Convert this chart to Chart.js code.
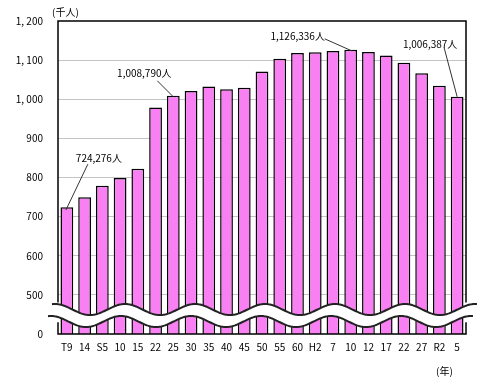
<!DOCTYPE html>
<html>
<head>
<meta charset="utf-8">
<script src="https://cdn.jsdelivr.net/npm/chart.js@4.4.0/dist/chart.umd.min.js"></script>
<style>
  html, body { margin: 0; padding: 0; background: #fff; }
  #wrap { position: relative; width: 486px; height: 387px; }
  canvas { display: block; }
</style>
</head>
<body>
<div id="wrap"><canvas id="myChart" width="486" height="387"></canvas></div>
<script>
const years = ["T9", "14", "S5", "10", "15", "22", "25", "30", "35", "40", "45", "50",
  "55", "60", "H2", "7", "10", "12", "17", "22", "27", "R2", "5"];

// 千人
const population = [724.276, 749.243, 778.953, 798.890, 822.569, 979.229, 1008.790,
  1021.121, 1032.614, 1025.465, 1029.695, 1070.791, 1103.459, 1118.369, 1120.161,
  1123.125, 1126.336, 1120.851, 1111.729, 1093.247, 1066.328, 1034.814, 1006.387];

const yTicks = [400, 500, 600, 700, 800, 900, 1000, 1100, 1200];

// 注記 (index, text)
const notes = [
  { index: 0, text: "724,276人" },
  { index: 6, text: "1,008,790人" },
  { index: 16, text: "1,126,336人" },
  { index: 22, text: "1,006,387人" },
];

const FONT = "'Noto Sans CJK JP', 'DejaVu Sans', sans-serif";

function fmt(v) {
  if (v === 400) return "0";
  return v.toLocaleString("en-US").replace(",", ", ");
}

// leader line / text offsets from the bar top
const noteStyle = [
  { l0: [-1, 3], l1: [21, -43], t: [32, -49] },
  { l0: [0, 1], l1: [-16, -15], t: [-29, -23] },
  { l0: [1, 1], l1: [-26, -11], t: [-53, -14] },
  { l0: [0, 0], l1: [-13, -49], t: [-27, -53] },
];

const decor = {
  id: "decor",
  afterDatasetsDraw(chart) {
    const { ctx, chartArea: a, scales } = chart;
    const x = scales.x, y = scales.y;

    // axis break band
    const c = y.getPixelForValue(460) - 1;
    const amp = 5.5, per = 70, gap = 12;
    const x0 = a.left - 6, x1 = a.right + 11;
    const wave = (px) => c - amp * Math.cos(2 * Math.PI * (px - 125) / per);
    ctx.save();
    ctx.beginPath();
    for (let px = x0; px <= x1; px++) {
      if (px === x0) ctx.moveTo(px, wave(px)); else ctx.lineTo(px, wave(px));
    }
    for (let px = x1; px >= x0; px--) ctx.lineTo(px - 4, wave(px) + gap);
    ctx.closePath();
    ctx.fillStyle = "#fff";
    ctx.fill();
    ctx.lineWidth = 2;
    ctx.strokeStyle = "#222";
    ctx.beginPath();
    for (let px = x0; px <= x1; px++) {
      if (px === x0) ctx.moveTo(px, wave(px)); else ctx.lineTo(px, wave(px));
    }
    ctx.stroke();
    ctx.beginPath();
    for (let px = x0; px <= x1; px++) {
      if (px === x0) ctx.moveTo(px - 4, wave(px) + gap); else ctx.lineTo(px - 4, wave(px) + gap);
    }
    ctx.stroke();
    ctx.restore();

    // frame
    ctx.save();
    ctx.strokeStyle = "#000";
    ctx.lineWidth = 1.5;
    ctx.beginPath();
    ctx.moveTo(a.left, y.getPixelForValue(460) - 8);
    ctx.lineTo(a.left, a.top);
    ctx.lineTo(a.right, a.top);
    ctx.lineTo(a.right, y.getPixelForValue(460) - 8);
    ctx.moveTo(a.left, y.getPixelForValue(430));
    ctx.lineTo(a.left, a.bottom);
    ctx.lineTo(a.right, a.bottom);
    ctx.lineTo(a.right, y.getPixelForValue(430));
    ctx.stroke();
    ctx.restore();

    // notes
    ctx.save();
    ctx.font = "10px " + FONT;
    ctx.fillStyle = "#000";
    ctx.strokeStyle = "#333";
    ctx.lineWidth = 1;
    ctx.textAlign = "center";
    ctx.textBaseline = "middle";
    notes.forEach((n, i) => {
      const bx = x.getPixelForValue(n.index);
      const by = y.getPixelForValue(population[n.index]);
      const s = noteStyle[i];
      ctx.beginPath();
      ctx.moveTo(bx + s.l0[0], by + s.l0[1]);
      ctx.lineTo(bx + s.l1[0], by + s.l1[1]);
      ctx.stroke();
      ctx.fillText(n.text, bx + s.t[0], by + s.t[1]);
    });

    // unit labels
    ctx.textAlign = "left";
    ctx.fillText("(千人)", a.left - 6, a.top - 9);
    ctx.fillText("(年)", a.right - 30, a.bottom + 37);
    ctx.restore();
  },
};

const ctx = document.getElementById("myChart").getContext("2d");

new Chart(ctx, {
  type: "bar",
  data: {
    labels: years,
    datasets: [
      {
        data: population,
        backgroundColor: "#f880f2",
        borderColor: "#000",
        borderWidth: 1.5,
        borderSkipped: false,
        barPercentage: 0.72,
        categoryPercentage: 1,
      },
    ],
  },
  options: {
    responsive: false,
    animation: false,
    layout: { padding: { left: 0, top: 17, right: 20, bottom: 0 } },
    plugins: { legend: { display: false }, tooltip: { enabled: false } },
    scales: {
      x: {
        grid: { display: false, drawTicks: false },
        border: { display: false },
        ticks: { color: "#000", font: { size: 10, family: FONT }, padding: 7, maxRotation: 0, autoSkip: false },
        afterFit(scale) { scale.height = 53; },
      },
      y: {
        min: 400,
        max: 1200,
        afterBuildTicks(scale) { scale.ticks = yTicks.map((v) => ({ value: v })); },
        grid: {
          drawTicks: false,
          color: (c) => (c.tick && (c.tick.value === 400 || c.tick.value === 1200) ? "rgba(0,0,0,0)" : "#c4c4c4"),
          lineWidth: 1,
        },
        border: { display: false },
        ticks: { color: "#000", font: { size: 10, family: FONT }, padding: 15, callback: (v) => fmt(v) },
        afterFit(scale) { scale.width = 58; },
      },
    },
  },
  plugins: [decor],
});
</script>
</body>
</html>
